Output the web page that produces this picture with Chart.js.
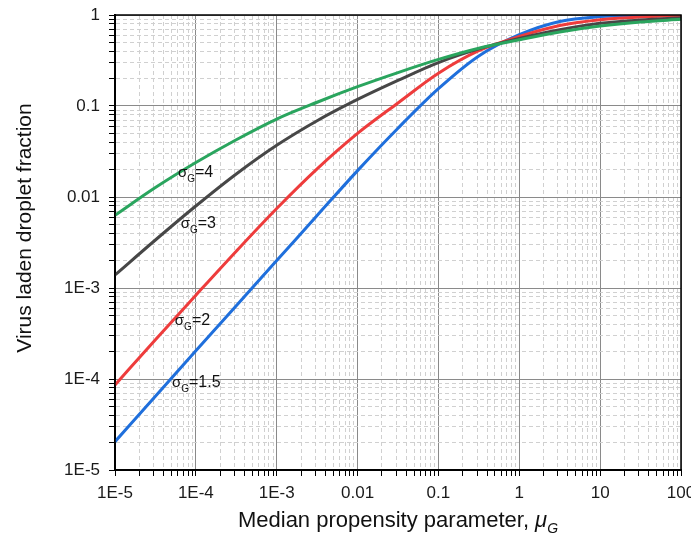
<!DOCTYPE html>
<html>
<head>
<meta charset="utf-8">
<script src="https://cdn.jsdelivr.net/npm/chart.js@4/dist/chart.umd.min.js"></script>
<style>
html,body{margin:0;padding:0;background:#fff;}
#wrap{width:691px;height:536px;position:relative;}
</style>
</head>
<body>
<div id="wrap"><canvas id="c" width="691" height="536"></canvas></div>
<script>
// ---- data ----
const mu = [1e-5, 3.16e-5, 1e-4, 3.16e-4, 1e-3, 3.16e-3, 1e-2, 3.16e-2, 0.1, 0.316, 1, 3.16, 10, 31.6, 100];
const sigma1_5 = [2.05e-5, 6.47e-5, 2.04e-4, 6.4e-4, 2.0e-3, 6.26e-3, 0.0195, 0.057, 0.155, 0.355, 0.608, 0.85, 0.96, 0.993, 0.9995];
const sigma2   = [8.6e-5, 2.70e-4, 8.34e-4, 2.54e-3, 7.48e-3, 0.0204, 0.050, 0.108, 0.229, 0.405, 0.58, 0.766, 0.889, 0.953, 0.98];
const sigma3   = [1.39e-3, 3.37e-3, 7.96e-3, 0.0179, 0.037, 0.0689, 0.118, 0.191, 0.30, 0.424, 0.553, 0.689, 0.81, 0.88, 0.93];
const sigma4   = [6.3e-3, 0.0127, 0.0239, 0.0426, 0.0719, 0.110, 0.163, 0.233, 0.325, 0.432, 0.535, 0.65, 0.755, 0.838, 0.897];
const sigmaValues = ['4', '3', '2', '1.5'];
const xTickValues = [1e-5, 1e-4, 1e-3, 0.01, 0.1, 1, 10, 100];
const xTickLabels = ['1E-5', '1E-4', '1E-3', '0.01', '0.1', '1', '10', '100'];
const yTickValues = [1e-5, 1e-4, 1e-3, 0.01, 0.1, 1];
const yTickLabels = ['1E-5', '1E-4', '1E-3', '0.01', '0.1', '1'];

// ---- styles / placement ----
const FONT = '"Liberation Sans", Arial, sans-serif';
const colors = ['#2aa55e', '#474747', '#ee3c3c', '#1f6fdc'];
const curveLabelAnchor = { x: [6.0e-5, 6.5e-5, 5.5e-5, 5.06e-5], y: [0.0188, 5.2e-3, 4.45e-4, 9.3e-5] };

const seriesData = [sigma4, sigma3, sigma2, sigma1_5];

function logTicks(lo, hi) {
  const t = [];
  for (let e = lo; e <= hi; e++) {
    for (let s = 1; s <= 9; s++) {
      if (e === hi && s > 1) break;
      t.push({ value: parseFloat((s * Math.pow(10, e)).toPrecision(4)), major: s === 1 });
    }
  }
  return t;
}
function labelFor(values, labels, v) {
  const i = values.findIndex(tv => Math.abs(Math.log10(tv) - Math.log10(v)) < 1e-6);
  return i >= 0 ? labels[i] : '';
}
function drawRuns(ctx, runs, x, y, align) {
  let total = 0;
  runs.forEach(r => { ctx.font = r.font; r.w = ctx.measureText(r.text).width; total += r.w; });
  let cx = align === 'center' ? x - total / 2 : x;
  ctx.textAlign = 'left';
  ctx.textBaseline = 'alphabetic';
  runs.forEach(r => { ctx.font = r.font; ctx.fillText(r.text, cx, y + (r.dy || 0)); cx += r.w; });
}

const gridColor = c => (c.tick && c.tick.major) ? '#8a8a8a' : '#d0d0d0';
const gridDash = c => (c.tick && !c.tick.major) ? [4, 3] : [];

const decor = {
  id: 'decor',
  afterDraw(chart) {
    const ctx = chart.ctx, a = chart.chartArea;
    const xs = chart.scales.x, ys = chart.scales.y;
    ctx.save();
    // frame
    ctx.strokeStyle = '#000';
    ctx.lineWidth = 1.5;
    ctx.strokeRect(a.left, a.top, a.right - a.left, a.bottom - a.top);
    ctx.fillStyle = '#111';
    // curve labels
    sigmaValues.forEach((s, i) => {
      const px = xs.getPixelForValue(curveLabelAnchor.x[i]);
      const py = ys.getPixelForValue(curveLabelAnchor.y[i]) + 5;
      drawRuns(ctx, [
        { text: 'σ', font: '15px ' + FONT },
        { text: 'G', font: '10px ' + FONT, dy: 5 },
        { text: '=' + s, font: '16px ' + FONT }
      ], px, py, 'left');
    });
    // x title
    drawRuns(ctx, [
      { text: 'Median propensity parameter, ', font: '22px ' + FONT },
      { text: 'μ', font: 'italic 22px ' + FONT },
      { text: 'G', font: 'italic 14px ' + FONT, dy: 6 }
    ], (a.left + a.right) / 2, 527, 'center');
    // y title
    ctx.translate(31, 228);
    ctx.rotate(-Math.PI / 2);
    ctx.textAlign = 'center';
    ctx.textBaseline = 'alphabetic';
    ctx.font = '21px ' + FONT;
    ctx.fillText('Virus laden droplet fraction', 0, 0);
    ctx.restore();
  }
};

new Chart(document.getElementById('c'), {
  type: 'line',
  data: {
    datasets: seriesData.map((arr, i) => ({
      label: 'σG=' + sigmaValues[i],
      data: mu.map((m, j) => ({ x: m, y: arr[j] })),
      borderColor: colors[i],
      backgroundColor: colors[i],
      borderWidth: 3,
      pointRadius: 0,
      fill: false,
      tension: 0.4,
      cubicInterpolationMode: 'monotone'
    }))
  },
  options: {
    responsive: false,
    animation: false,
    devicePixelRatio: 1,
    layout: { padding: { top: 15, right: 10, left: 0, bottom: 0 } },
    plugins: { legend: { display: false }, tooltip: { enabled: false }, title: { display: false } },
    scales: {
      x: {
        type: 'logarithmic',
        min: 1e-5, max: 100,
        afterBuildTicks: s => { s.ticks = logTicks(-5, 2); },
        afterFit: s => { s.height = 66; s.paddingLeft = 0; s.paddingRight = 0; },
        ticks: {
          autoSkip: false, maxRotation: 0, minRotation: 0, padding: 7,
          color: '#1a1a1a', font: { family: FONT, size: 17 },
          callback: v => labelFor(xTickValues, xTickLabels, v)
        },
        grid: { color: gridColor, lineWidth: 1, tickColor: '#000', tickLength: 6, tickWidth: 1 },
        border: { display: true, color: '#000', width: 2, dash: gridDash }
      },
      y: {
        type: 'logarithmic',
        min: 1e-5, max: 1,
        afterBuildTicks: s => { s.ticks = logTicks(-5, 0); },
        afterFit: s => { s.width = 115; s.paddingTop = 0; s.paddingBottom = 0; },
        ticks: {
          autoSkip: false, padding: 9,
          color: '#1a1a1a', font: { family: FONT, size: 17 },
          callback: v => labelFor(yTickValues, yTickLabels, v)
        },
        grid: { color: gridColor, lineWidth: 1, tickColor: '#000', tickLength: 6, tickWidth: 1 },
        border: { display: true, color: '#000', width: 2, dash: gridDash }
      }
    }
  },
  plugins: [decor]
});
</script>
</body>
</html>
